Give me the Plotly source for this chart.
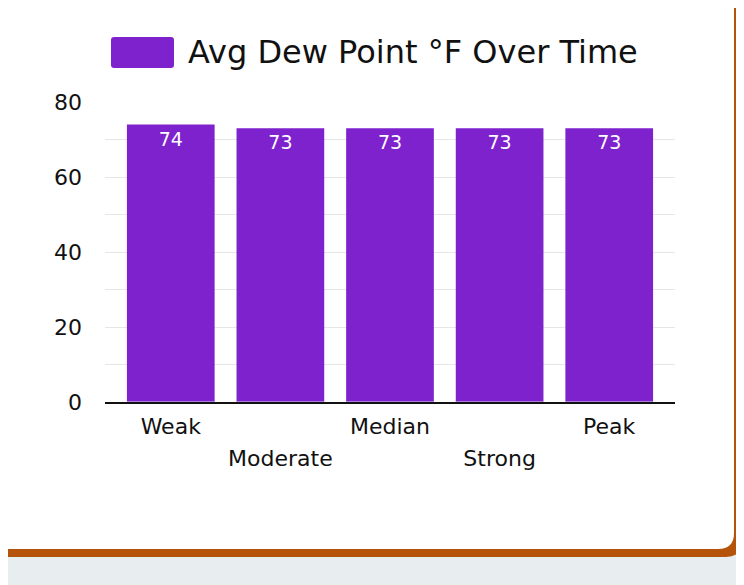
import plotly.graph_objects as go

categories = ["Weak", "Moderate", "Median", "Strong", "Peak"]
dew_point = [74, 73, 73, 73, 73]
series_name = "Avg Dew Point °F Over Time"
y_ticks = [0, 20, 40, 60, 80]

# the page body has an 8px margin, so the figure is drawn 8px in from the corner
OFF = 8
W, H = 744 - OFF, 585 - OFF
L, R, T, B = 105 - OFF, 69, 102 - OFF, 183
PURPLE = "#7e22ce"
FONT = "DejaVu Sans"


def px(x):
    return (x - OFF - L) / (W - L - R)


def py(y):
    return (H - B - (y - OFF)) / (H - T - B)


def rounded(x0, y0, x1, y1, r):
    # rounded rect in window pixel coords -> path in paper coords
    pts = [
        f"M {px(x0 + r)} {py(y0)}",
        f"L {px(x1 - r)} {py(y0)}",
        f"Q {px(x1)} {py(y0)} {px(x1)} {py(y0 + r)}",
        f"L {px(x1)} {py(y1 - r)}",
        f"Q {px(x1)} {py(y1)} {px(x1 - r)} {py(y1)}",
        f"L {px(x0 + r)} {py(y1)}",
        f"Q {px(x0)} {py(y1)} {px(x0)} {py(y1 - r)}",
        f"L {px(x0)} {py(y0 + r)}",
        f"Q {px(x0)} {py(y0)} {px(x0 + r)} {py(y0)}",
        "Z",
    ]
    return " ".join(pts)


even = categories[0::2]
odd = categories[1::2]

fig = go.Figure(go.Bar(
    x=categories, y=dew_point, name=series_name,
    marker=dict(color=PURPLE, line=dict(width=0)),
    text=dew_point, textposition="inside", insidetextanchor="end",
    textfont=dict(color="white", size=19, family=FONT),
    textangle=0, width=0.8, showlegend=False,
))
# invisible helper on a second x axis, only to carry the lower row of labels
fig.add_trace(go.Bar(x=categories, y=[0] * len(categories), xaxis="x2",
                     showlegend=False, hoverinfo="skip", marker=dict(color="rgba(0,0,0,0)")))

shapes = [
    dict(type="path", path=rounded(-30, -30, 742, 557, 16), xref="paper", yref="paper",
         fillcolor="#b45309", line=dict(width=0), layer="below"),
    dict(type="path", path=rounded(-30, -30, 734, 549, 16), xref="paper", yref="paper",
         fillcolor="white", line=dict(width=0), layer="below"),
    dict(type="path", path=rounded(111, 37, 174, 68, 3), xref="paper", yref="paper",
         fillcolor=PURPLE, line=dict(width=0)),
]

fig.update_layout(
    width=W, height=H,
    margin=dict(l=L, r=R, t=T, b=B),
    paper_bgcolor="#e8edf0", plot_bgcolor="rgba(0,0,0,0)",
    font=dict(family=FONT, color="#111"),
    shapes=shapes,
    annotations=[dict(text=series_name, xref="paper", yref="paper", x=px(186), y=py(52),
                      xanchor="left", yanchor="middle", showarrow=False,
                      font=dict(size=32, family=FONT, color="#111"))],
    xaxis=dict(categoryorder="array", categoryarray=categories,
               tickvals=even, ticktext=even, range=[-0.6, 4.6],
               showline=True, linecolor="#111", linewidth=2, ticks="",
               tickfont=dict(size=22), showgrid=False, ticklabelstandoff=4),
    xaxis2=dict(overlaying="x", matches="x", side="bottom", anchor="y",
                categoryorder="array", categoryarray=categories,
                tickvals=odd, ticktext=odd, ticks="", showline=False, showgrid=False,
                tickfont=dict(size=22), ticklabelstandoff=41),
    yaxis=dict(range=[0, 80], tickvals=y_ticks, showgrid=True, gridcolor="#e6e6e6",
               minor=dict(dtick=10, showgrid=True, gridcolor="#e6e6e6"),
               tickfont=dict(size=22), zeroline=False, ticks="", ticklabelstandoff=22),
    bargap=0.2, barmode="overlay",
)

fig.write_html("out.html")
